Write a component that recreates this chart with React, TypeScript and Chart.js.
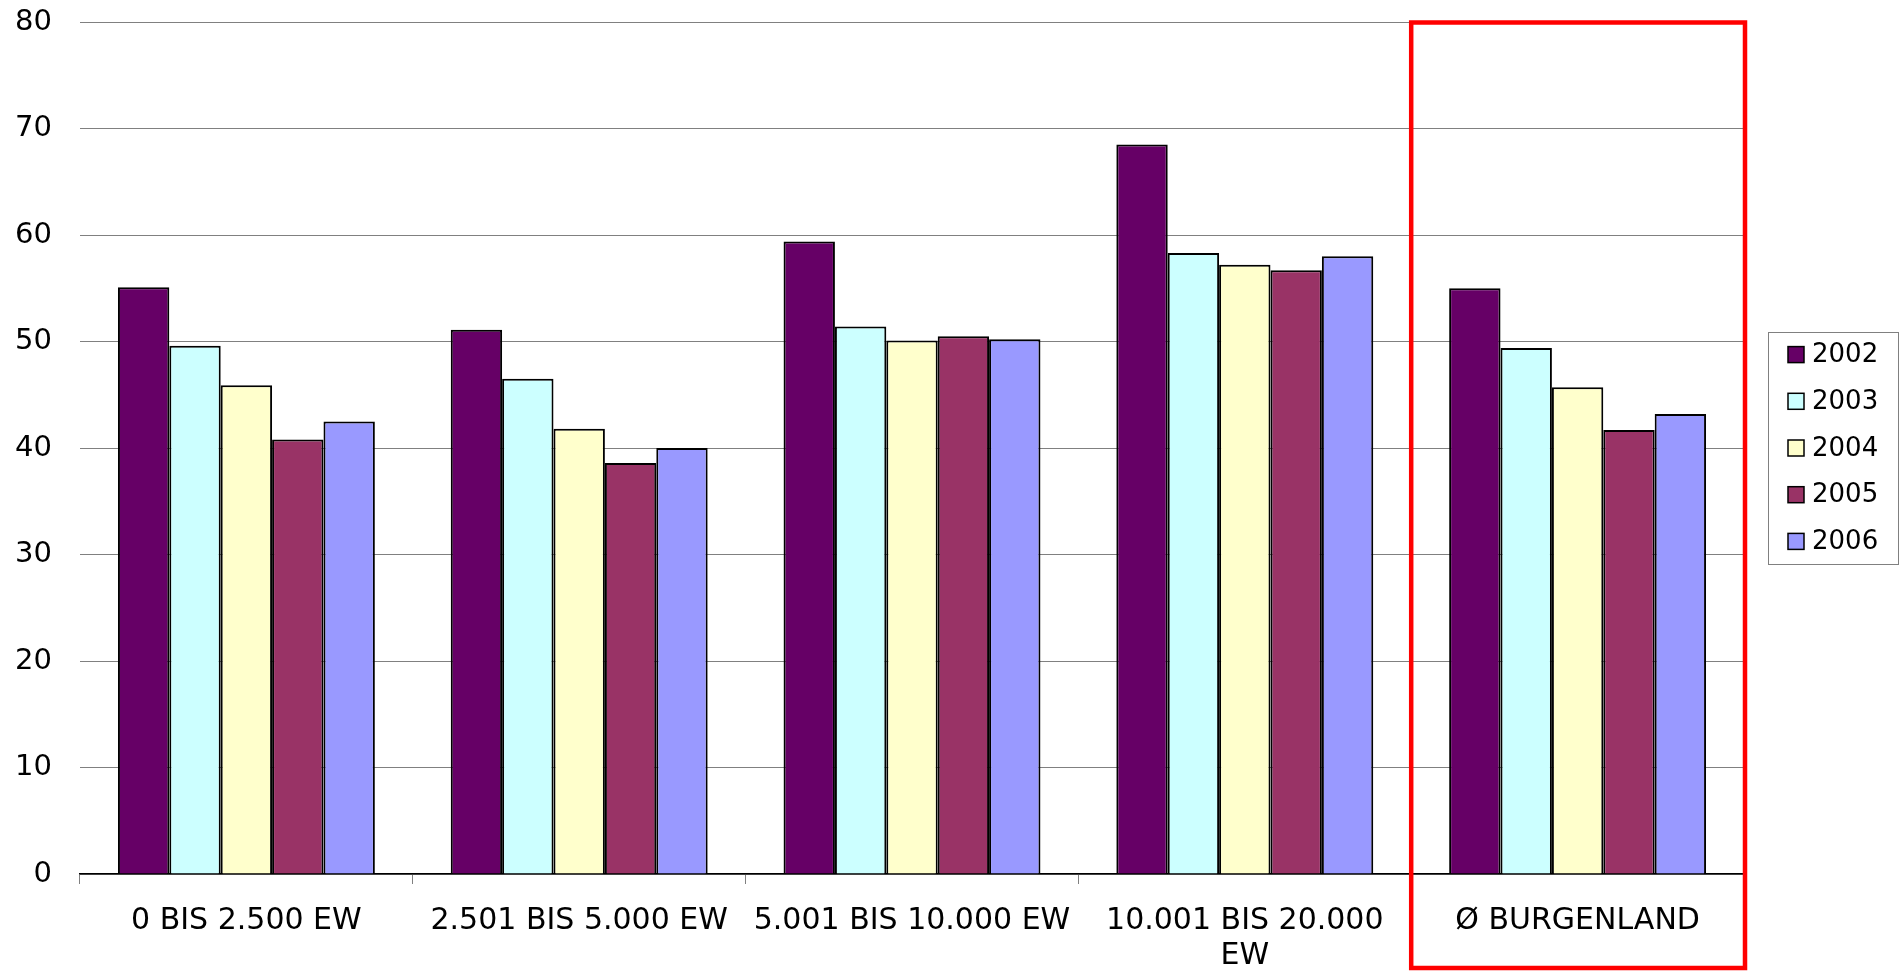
import React, { useEffect, useRef } from 'react';
import { Chart, registerables } from 'chart.js';

Chart.register(...registerables);

// Gemeindegrößenklassen (x axis)
const categories: (string | string[])[] = [
  '0 BIS 2.500 EW',
  '2.501 BIS 5.000 EW',
  '5.001 BIS 10.000 EW',
  ['10.001 BIS 20.000', 'EW'],
  'Ø BURGENLAND',
];

const years = ['2002', '2003', '2004', '2005', '2006'];

const values2002 = [55.1, 51.1, 59.4, 68.5, 55.0];
const values2003 = [49.6, 46.5, 51.4, 58.3, 49.4];
const values2004 = [45.9, 41.8, 50.1, 57.2, 45.7];
const values2005 = [40.8, 38.6, 50.5, 56.7, 41.7];
const values2006 = [42.5, 40.0, 50.2, 58.0, 43.2];

const yearColors = ['#660066', '#CCFFFF', '#FFFFCC', '#993366', '#9999FF'];

const yMin = 0;
const yMax = 80;
const yStep = 10;

// Index of the category framed in red
const highlightIndex = 4;

const FONT = 'DejaVu Sans, Verdana, sans-serif';

const highlightPlugin = {
  id: 'highlightBox',
  afterDraw(chart: any) {
    const { ctx, chartArea, scales } = chart;
    const xs = scales.x;
    const left =
      (xs.getPixelForValue(highlightIndex - 1) + xs.getPixelForValue(highlightIndex)) / 2;
    const right = chartArea.right + 1;
    const top = chartArea.top + 0.5;
    const bottom = chart.height - 3;
    ctx.save();
    ctx.strokeStyle = '#FF0000';
    ctx.lineWidth = 4.5;
    ctx.strokeRect(left, top, right - left, bottom - top);
    ctx.restore();
  },
};

const boxedLegendPlugin = {
  id: 'boxedLegend',
  afterDraw(chart: any) {
    const { ctx, chartArea } = chart;
    const datasets = chart.data.datasets;
    const rowGap = 46.7;
    const boxW = 130;
    const boxH = 232;
    const boxLeft = chartArea.right + 24;
    const boxTop = (chartArea.top + chartArea.bottom) / 2 - boxH / 2;
    ctx.save();
    ctx.fillStyle = '#FFFFFF';
    ctx.fillRect(boxLeft, boxTop, boxW, boxH);
    ctx.strokeStyle = '#808080';
    ctx.lineWidth = 1;
    ctx.strokeRect(Math.round(boxLeft) + 0.5, Math.round(boxTop) + 0.5, boxW, boxH);
    const firstRow = boxTop + boxH / 2 - rowGap * (datasets.length - 1) / 2;
    ctx.font = `26px ${FONT}`;
    ctx.textBaseline = 'middle';
    ctx.textAlign = 'left';
    datasets.forEach((ds: any, i: number) => {
      const cy = firstRow + i * rowGap;
      const sx = boxLeft + 20;
      const sw = 16;
      ctx.fillStyle = ds.backgroundColor;
      ctx.fillRect(sx, cy - sw / 2, sw, sw);
      ctx.strokeStyle = '#000000';
      ctx.lineWidth = 1.5;
      ctx.strokeRect(sx, cy - sw / 2, sw, sw);
      ctx.fillStyle = '#000000';
      ctx.fillText(ds.label, boxLeft + 44, cy + 1);
    });
    ctx.restore();
  },
};

export default function App() {
  const canvasRef = useRef<HTMLCanvasElement | null>(null);

  useEffect(() => {
    document.body.style.margin = '0';
    document.body.style.overflow = 'hidden';
    const canvas = canvasRef.current;
    if (!canvas) return;

    const series = [values2002, values2003, values2004, values2005, values2006];

    const chart = new Chart(canvas, {
      type: 'bar',
      data: {
        labels: categories,
        datasets: years.map((year, i) => ({
          label: year,
          data: series[i],
          backgroundColor: yearColors[i],
          borderColor: '#000000',
          borderWidth: 2,
          categoryPercentage: 0.772,
          barPercentage: 1,
        })),
      },
      options: {
        responsive: false,
        animation: false,
        devicePixelRatio: 1,
        layout: { padding: { left: 0, right: 157, top: 22, bottom: 0 } },
        plugins: {
          legend: { display: false },
          tooltip: { enabled: false },
          title: { display: false },
        },
        scales: {
          x: {
            afterFit: (scale: any) => {
              scale.height = 97;
              scale.paddingLeft = 0;
              scale.paddingRight = 0;
            },
            grid: {
              display: true,
              drawOnChartArea: false,
              drawTicks: true,
              tickLength: 10,
              color: '#808080',
              lineWidth: 1,
            },
            border: { display: true, color: '#000000', width: 1.5 },
            ticks: {
              autoSkip: false,
              maxRotation: 0,
              minRotation: 0,
              padding: 20,
              color: '#000000',
              font: { family: FONT, size: 30, lineHeight: 1.16 },
            },
          },
          y: {
            min: yMin,
            max: yMax,
            afterFit: (scale: any) => {
              scale.width = 80;
              scale.paddingTop = 0;
              scale.paddingBottom = 0;
            },
            grid: {
              display: true,
              drawTicks: false,
              color: '#808080',
              lineWidth: 1,
            },
            border: { display: false },
            ticks: {
              stepSize: yStep,
              padding: 28,
              color: '#000000',
              font: { family: FONT, size: 29 },
            },
          },
        },
      },
      plugins: [highlightPlugin, boxedLegendPlugin],
    });

    return () => {
      chart.destroy();
    };
  }, []);

  return (
    <div style={{ width: 1901, height: 971, background: '#FFFFFF' }}>
      <canvas ref={canvasRef} width={1901} height={971} style={{ display: 'block' }} />
    </div>
  );
}
